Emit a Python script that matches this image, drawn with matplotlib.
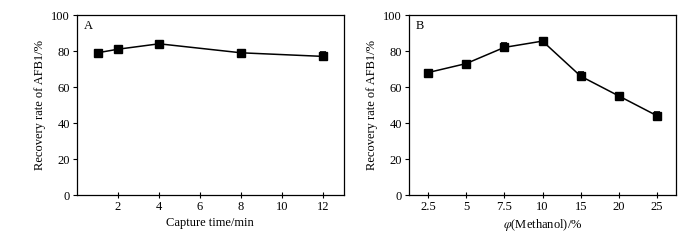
import numpy as np
import matplotlib
matplotlib.use('Agg')
from matplotlib import pyplot as plt

plt.rcParams['font.family'] = ['Liberation Serif', 'DejaVu Serif']
plt.rcParams['mathtext.fontset'] = 'stix'
plt.rcParams['font.size'] = 9

# panel A: capture time
time_min = [1, 2, 4, 8, 12]
recovery_a = [79, 81, 84, 79, 77]
err_a = [1.2, 1.2, 1.0, 1.5, 2.2]

# panel B: methanol fraction
methanol_labels = ['2.5', '5', '7.5', '10', '15', '20', '25']
recovery_b = [68, 73, 82, 85.5, 66, 55, 44]
err_b = [1.5, 1.2, 2.2, 2.0, 2.2, 1.5, 2.2]

fig = plt.figure(figsize=(7, 2.4), dpi=100)
axA = fig.add_axes([0.11, 0.1875, 0.381, 0.75])
axB = fig.add_axes([0.584, 0.1875, 0.382, 0.75])

def style(ax):
    ax.set_ylim(0, 100)
    ax.set_yticks([0, 20, 40, 60, 80, 100])
    ax.tick_params(axis='x', direction='inout', length=5, width=0.8, pad=2)
    ax.tick_params(axis='y', direction='out', length=3, width=0.8, pad=2)
    for s in ax.spines.values():
        s.set_linewidth(0.9)
    ax.set_ylabel('Recovery rate of AFB1/%', labelpad=4)

axA.errorbar(time_min, recovery_a, yerr=err_a, color='black', marker='s',
             markersize=5.5, lw=1.1, capsize=2.5, elinewidth=1.2, capthick=1.2)
axA.set_xlim(0, 13)
axA.set_xticks([2, 4, 6, 8, 10, 12])
axA.set_xlabel('Capture time/min', labelpad=3)
axA.text(0.025, 0.97, 'A', transform=axA.transAxes, va='top', ha='left')
style(axA)

xb = np.arange(len(methanol_labels))
axB.errorbar(xb, recovery_b, yerr=err_b, color='black', marker='s',
             markersize=5.5, lw=1.1, capsize=2.5, elinewidth=1.2, capthick=1.2)
axB.set_xlim(-0.5, len(methanol_labels) - 0.5)
axB.set_xticks(xb)
axB.set_xticklabels(methanol_labels)
axB.set_xlabel(r'$\varphi$(Methanol)/%', labelpad=3)
axB.text(0.025, 0.97, 'B', transform=axB.transAxes, va='top', ha='left')
style(axB)

fig.savefig('out.png', dpi=100)
